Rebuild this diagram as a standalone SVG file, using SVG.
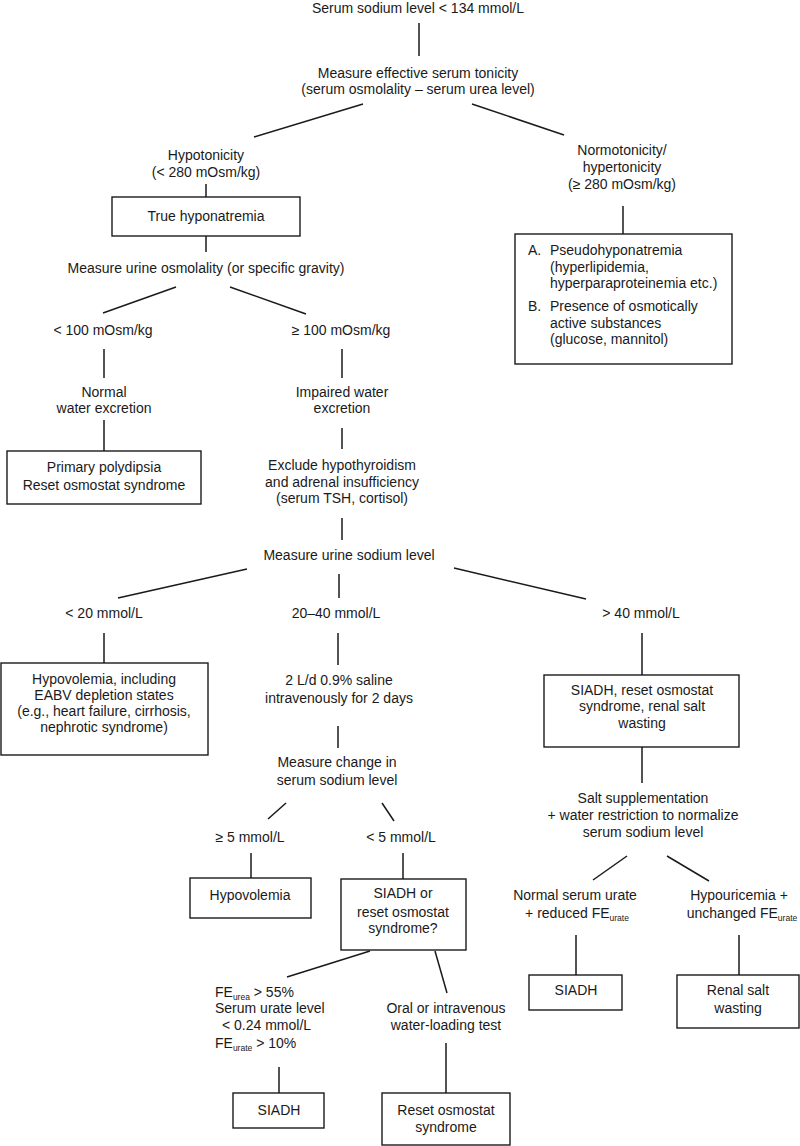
<svg xmlns="http://www.w3.org/2000/svg" width="800" height="1146" viewBox="0 0 800 1146">
<style>
text{font-family:"Liberation Sans","DejaVu Sans",sans-serif;font-size:14px;fill:#1a1a1a;text-anchor:middle}
text.l{text-anchor:start}
.sub{font-size:8.5px}
.box{fill:#fff;stroke:#1a1a1a;stroke-width:1.4}
#connectors line{stroke:#1a1a1a;stroke-width:1.5}
</style>
<rect width="800" height="1146" fill="#fff"/>
<g id="connectors">
<line x1="419" y1="23" x2="419" y2="56"/>
<line x1="363" y1="104" x2="254" y2="137"/>
<line x1="472" y1="104" x2="564" y2="135"/>
<line x1="206" y1="184" x2="206" y2="197"/>
<line x1="623" y1="206" x2="623" y2="234"/>
<line x1="206" y1="236" x2="206" y2="252"/>
<line x1="176" y1="287" x2="103" y2="313"/>
<line x1="230" y1="287" x2="306" y2="314"/>
<line x1="104" y1="349" x2="104" y2="378"/>
<line x1="342" y1="349" x2="342" y2="378"/>
<line x1="104" y1="420" x2="104" y2="451"/>
<line x1="342" y1="428" x2="342" y2="449"/>
<line x1="342" y1="518" x2="342" y2="540"/>
<line x1="247" y1="569" x2="118" y2="598"/>
<line x1="339" y1="574" x2="339" y2="598"/>
<line x1="454" y1="568" x2="586" y2="599"/>
<line x1="104" y1="633" x2="104" y2="663"/>
<line x1="338" y1="633" x2="338" y2="665"/>
<line x1="642" y1="633" x2="642" y2="675"/>
<line x1="338" y1="726" x2="338" y2="748"/>
<line x1="642" y1="747" x2="642" y2="783"/>
<line x1="286" y1="803" x2="268" y2="819"/>
<line x1="382" y1="803" x2="394" y2="821"/>
<line x1="251" y1="853" x2="251" y2="878"/>
<line x1="403" y1="853" x2="403" y2="879"/>
<line x1="627" y1="856" x2="593" y2="880"/>
<line x1="667" y1="856" x2="709" y2="881"/>
<line x1="576" y1="935" x2="576" y2="975"/>
<line x1="739" y1="935" x2="739" y2="975"/>
<line x1="370" y1="951" x2="287" y2="977"/>
<line x1="435" y1="951" x2="447" y2="993"/>
<line x1="279" y1="1067" x2="279" y2="1093"/>
<line x1="446" y1="1043" x2="446" y2="1093"/>
</g>
<g id="n-start"><text x="418" y="13">Serum sodium level &lt; 134 mmol/L</text></g>
<g id="n-tonicity"><text x="418" y="78">Measure effective serum tonicity</text><text x="418" y="94">(serum osmolality – serum urea level)</text></g>
<g id="n-hypo"><text x="206" y="160">Hypotonicity</text><text x="206" y="177">(&lt; 280 mOsm/kg)</text></g>
<g id="n-normo"><text x="622" y="155">Normotonicity/</text><text x="622" y="172">hypertonicity</text><text x="622" y="189">(≥ 280 mOsm/kg)</text></g>
<g id="n-true"><rect class="box" x="112" y="197" width="188" height="39"/><text x="206" y="221">True hyponatremia</text></g>
<g id="n-pseudo"><rect class="box" x="515" y="234" width="217" height="130"/>
<text class="l" x="528" y="255">A.</text><text class="l" x="550" y="255">Pseudohyponatremia</text>
<text class="l" x="550" y="272">(hyperlipidemia,</text><text class="l" x="550" y="288">hyperparaproteinemia etc.)</text>
<text class="l" x="528" y="311">B.</text><text class="l" x="550" y="311">Presence of osmotically</text>
<text class="l" x="550" y="328">active substances</text><text class="l" x="550" y="344">(glucose, mannitol)</text></g>
<g id="n-urineosm"><text x="206" y="273">Measure urine osmolality (or specific gravity)</text></g>
<g id="n-lt100"><text x="103" y="335">&lt; 100 mOsm/kg</text></g>
<g id="n-ge100"><text x="341" y="335">≥ 100 mOsm/kg</text></g>
<g id="n-normal"><text x="104" y="397">Normal</text><text x="104" y="413">water excretion</text></g>
<g id="n-impaired"><text x="342" y="397">Impaired water</text><text x="342" y="413">excretion</text></g>
<g id="n-polydipsia"><rect class="box" x="7" y="451" width="194" height="53"/><text x="104" y="472">Primary polydipsia</text><text x="104" y="490">Reset osmostat syndrome</text></g>
<g id="n-exclude"><text x="342" y="470">Exclude hypothyroidism</text><text x="342" y="487">and adrenal insufficiency</text><text x="342" y="503">(serum TSH, cortisol)</text></g>
<g id="n-urinena"><text x="349" y="560">Measure urine sodium level</text></g>
<g id="n-lt20"><text x="104" y="618">&lt; 20 mmol/L</text></g>
<g id="n-20to40"><text x="336" y="618">20–40 mmol/L</text></g>
<g id="n-gt40"><text x="641" y="618">&gt; 40 mmol/L</text></g>
<g id="n-hypovol-eabv"><rect class="box" x="1" y="663" width="207" height="92"/>
<text x="104" y="684">Hypovolemia, including</text><text x="104" y="700">EABV depletion states</text>
<text x="104" y="716">(e.g., heart failure, cirrhosis,</text><text x="104" y="732">nephrotic syndrome)</text></g>
<g id="n-saline"><text x="339" y="685">2 L/d 0.9% saline</text><text x="339" y="703">intravenously for 2 days</text></g>
<g id="n-siadh-reset-rsw"><rect class="box" x="544" y="675" width="195" height="72"/>
<text x="642" y="695">SIADH, reset osmostat</text><text x="642" y="711">syndrome, renal salt</text><text x="642" y="728">wasting</text></g>
<g id="n-change"><text x="337" y="767">Measure change in</text><text x="337" y="785">serum sodium level</text></g>
<g id="n-salt"><text x="643" y="803">Salt supplementation</text><text x="643" y="820">+ water restriction to normalize</text><text x="643" y="837">serum sodium level</text></g>
<g id="n-ge5"><text x="250" y="842">≥ 5 mmol/L</text></g>
<g id="n-lt5"><text x="401" y="842">&lt; 5 mmol/L</text></g>
<g id="n-hypovol"><rect class="box" x="190" y="878" width="121" height="40"/><text x="250" y="900">Hypovolemia</text></g>
<g id="n-siadh-or"><rect class="box" x="341" y="879" width="125" height="71"/>
<text x="403" y="898">SIADH or</text><text x="403" y="917">reset osmostat</text><text x="403" y="933">syndrome?</text></g>
<g id="n-normalurate"><text x="575" y="900">Normal serum urate</text><text x="577" y="918">+ reduced FE<tspan class="sub" dy="3">urate</tspan></text></g>
<g id="n-hypouric"><text x="739" y="900">Hypouricemia +</text><text x="742" y="918">unchanged FE<tspan class="sub" dy="3">urate</tspan></text></g>
<g id="n-siadh2"><rect class="box" x="529" y="975" width="93" height="35"/><text x="576" y="995">SIADH</text></g>
<g id="n-rsw"><rect class="box" x="677" y="975" width="122" height="53"/><text x="738" y="995">Renal salt</text><text x="738" y="1013">wasting</text></g>
<g id="n-fe"><text class="l" x="215" y="997">FE<tspan class="sub" dy="3">urea</tspan><tspan dy="-3"> &gt; 55%</tspan></text>
<text class="l" x="215" y="1013">Serum urate level</text><text class="l" x="222" y="1030">&lt; 0.24 mmol/L</text>
<text class="l" x="215" y="1048">FE<tspan class="sub" dy="3">urate</tspan><tspan dy="-3"> &gt; 10%</tspan></text></g>
<g id="n-waterload"><text x="446" y="1013">Oral or intravenous</text><text x="446" y="1030">water-loading test</text></g>
<g id="n-siadh3"><rect class="box" x="233" y="1093" width="91" height="35"/><text x="279" y="1115">SIADH</text></g>
<g id="n-reset"><rect class="box" x="382" y="1093" width="128" height="52"/><text x="446" y="1115">Reset osmostat</text><text x="446" y="1132">syndrome</text></g>
</svg>
